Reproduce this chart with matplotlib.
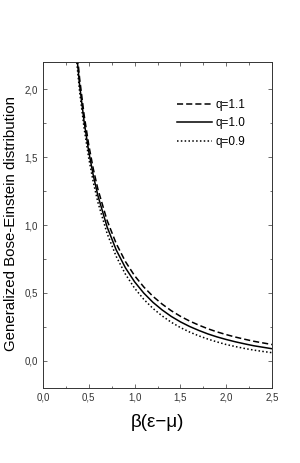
import numpy as np
import matplotlib.pyplot as plt
from matplotlib.ticker import MultipleLocator, FuncFormatter

plt.rcParams['font.family'] = ['Liberation Sans', 'DejaVu Sans']

# valores
x = [0.35, 0.40, 0.45, 0.50, 0.55, 0.60, 0.70, 0.80, 0.90, 1.00, 1.10, 1.20, 1.30,
     1.40, 1.50, 1.60, 1.70, 1.80, 1.90, 2.00, 2.10, 2.20, 2.30, 2.40, 2.50]
n_q11 = [2.435, 2.082, 1.808, 1.590, 1.412, 1.264, 1.034, 0.863, 0.731, 0.627, 0.544,
         0.475, 0.418, 0.369, 0.328, 0.293, 0.263, 0.236, 0.213, 0.193, 0.175, 0.159,
         0.144, 0.132, 0.120]
n_q10 = [2.386, 2.033, 1.759, 1.541, 1.364, 1.216, 0.986, 0.816, 0.685, 0.582, 0.499,
         0.431, 0.375, 0.327, 0.287, 0.253, 0.224, 0.198, 0.176, 0.157, 0.140, 0.125,
         0.111, 0.100, 0.089]
n_q09 = [2.336, 1.984, 1.710, 1.492, 1.314, 1.167, 0.938, 0.768, 0.638, 0.535, 0.453,
         0.386, 0.331, 0.284, 0.245, 0.212, 0.184, 0.160, 0.139, 0.120, 0.105, 0.091,
         0.079, 0.069, 0.060]

fig = plt.figure(figsize=(3.0, 4.63), dpi=100)
ax = fig.add_axes([0.143, 0.162, 0.764, 0.704])

ax.plot(x, n_q11, color='black', lw=1.1, ls=(0, (4, 2)), label='q=1.1')
ax.plot(x, n_q10, color='black', lw=1.1, ls='-', label='q=1.0')
ax.plot(x, n_q09, color='black', lw=1.1, ls=(0, (1, 1.5)), label='q=0.9')

ax.set_xlim(0, 2.5)
ax.set_ylim(-0.2, 2.2)

coma = FuncFormatter(lambda v, p: f"{v:.1f}".replace('.', ','))
ax.xaxis.set_major_locator(MultipleLocator(0.5))
ax.xaxis.set_minor_locator(MultipleLocator(0.25))
ax.yaxis.set_major_locator(MultipleLocator(0.5))
ax.yaxis.set_minor_locator(MultipleLocator(0.25))
ax.xaxis.set_major_formatter(coma)
ax.yaxis.set_major_formatter(coma)
ax.tick_params(which='both', direction='in', top=True, right=True, labelsize=7,
               width=0.6, color='#555555', labelcolor='#333333')
ax.tick_params(which='major', length=3)
ax.tick_params(which='minor', length=1.8)
for s in ax.spines.values():
    s.set_linewidth(0.7)
    s.set_color('#333333')

ax.set_xlabel('β(ε−μ)', fontsize=13.5)
ax.xaxis.set_label_coords(0.5, -0.08)
ax.set_ylabel('Generalized Bose-Einstein distribution', fontsize=10.8)
ax.yaxis.set_label_coords(-0.11, 0.505)

ax.legend(loc='upper right', frameon=False, fontsize=8.5, handlelength=3.0,
          handletextpad=0.3, labelspacing=0.55, bbox_to_anchor=(0.93, 0.92))

fig.savefig('out.png', dpi=100)
